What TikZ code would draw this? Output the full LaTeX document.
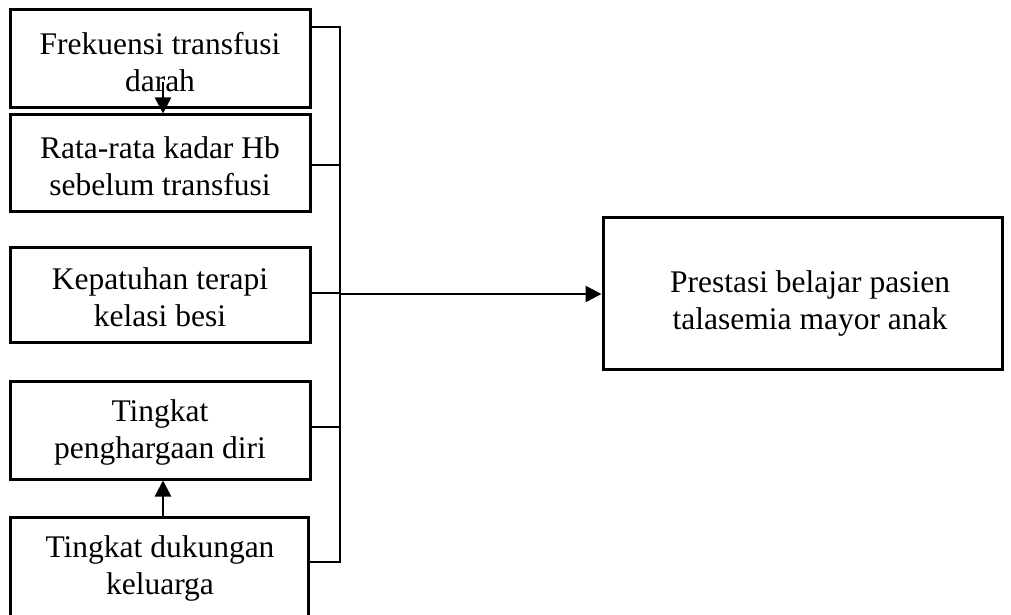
\documentclass[tikz,border=0pt]{standalone}
\usepackage{fontspec}
\setmainfont{Liberation Serif}
\usetikzlibrary{arrows.meta}
\begin{document}
\begin{tikzpicture}[x=1pt,y=-1pt,
  txt/.style={align=center,inner sep=0pt,font=\fontsize{31.5}{37}\selectfont},
  box/.style={draw,line width=3pt,inner sep=0pt,txt},
  conn/.style={line width=2.6pt},
  arr/.style={conn,-{Triangle[length=16pt,width=16pt]}}]
\useasboundingbox (0,0) rectangle (1011,615);
\node[box,minimum width=300pt,minimum height=98pt] (f) at (160,59) {};
\node[txt] (ft) at (160,62) {Frekuensi transfusi\\darah};
\node[box,minimum width=300pt,minimum height=96pt] (r) at (160,163) {};
\node[txt] (rt) at (160,166) {Rata-rata kadar Hb\\sebelum transfusi};
\node[box,minimum width=300pt,minimum height=95pt] (k) at (160,295) {};
\node[txt] (kt) at (160,297) {Kepatuhan terapi\\kelasi besi};
\node[box,minimum width=300pt,minimum height=98pt] (p) at (160,430) {};
\node[txt] (pt) at (160,432) {Tingkat\\penghargaan diri};
\node[box,minimum width=298pt,minimum height=108pt] (d) at (159,571) {};
\node[txt] (dt) at (160,568) {Tingkat dukungan\\keluarga};
\node[box,minimum width=399pt,minimum height=152pt] (y) at (802.5,293) {};
\node[txt] (yt) at (810,303) {Prestasi belajar pasien\\talasemia mayor anak};
\coordinate (b1) at (340,27);
\coordinate (b5) at (340,562);
\coordinate (b3) at (340,294);
\coordinate (c2) at (340,165);
\coordinate (c3) at (340,293);
\coordinate (c4) at (340,427);
\coordinate (fa) at (163,82);
\coordinate (fx) at (163,0);
\draw[conn] (f.east |- b1) -- (b1) -- (b5) -- (d.east |- b5);
\draw[conn] (r.east |- c2) -- (c2);
\draw[conn] (k.east |- c3) -- (c3);
\draw[conn] (p.east |- c4) -- (c4);
\draw[arr] (b3) -- (y.west |- b3);
\draw[arr] (fa) -- (fx |- r.north);
\draw[arr] (fx |- d.north) -- (fx |- p.south);
\end{tikzpicture}
\end{document}
